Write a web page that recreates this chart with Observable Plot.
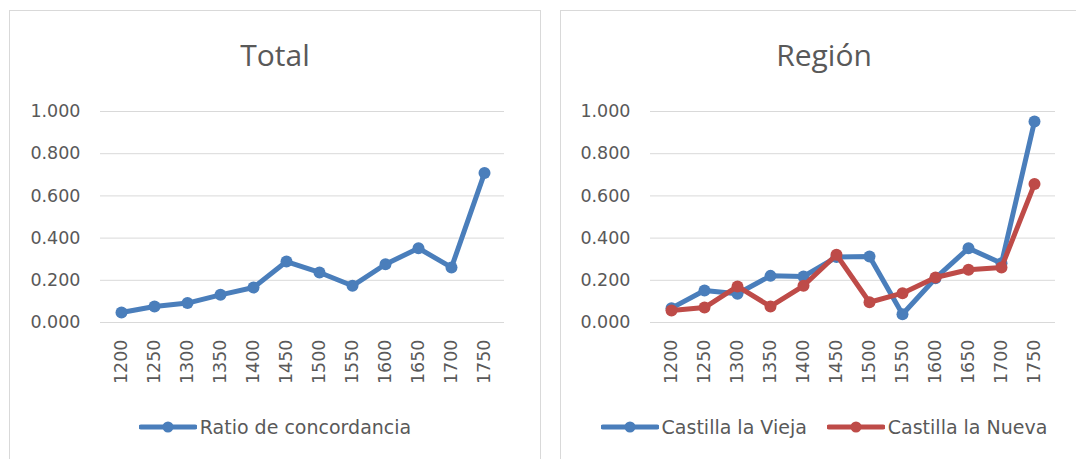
<!DOCTYPE html>
<html>
<head>
<meta charset="utf-8">
<script src="https://cdn.jsdelivr.net/npm/d3@7"></script>
<script src="https://cdn.jsdelivr.net/npm/@observablehq/plot@0.6"></script>
<style>
  html, body { margin: 0; padding: 0; background: #fff; overflow: hidden; }
  body { width: 1076px; height: 459px; position: relative; }
  .panel { position: absolute; top: 10px; height: 470px; border: 1px solid #d9d9d9; box-sizing: border-box; background: #fff; }
  .title { position: absolute; left: 0; right: 0; top: 24px; text-align: center; font-family: "Open Sans", sans-serif; font-size: 30px; line-height: 40px; color: #595959; }
  .chart { position: absolute; top: 80px; }
  .legend { position: absolute; left: 0; right: 0; top: 403px; height: 26px; display: flex; justify-content: center; align-items: center; gap: 20px; font-family: "DejaVu Sans", sans-serif; font-size: 19px; color: #595959; }
  .item { display: flex; align-items: center; gap: 3px; }
  .item svg { display: block; }
</style>
</head>
<body>
<div class="panel" id="p1" style="left:9px; width:532px;">
  <div class="title">Total</div>
  <div class="chart" id="c1" style="left:-1px;"></div>
  <div class="legend" id="l1"></div>
</div>
<div class="panel" id="p2" style="left:560px; width:528px;">
  <div class="title">Región</div>
  <div class="chart" id="c2" style="left:-1px;"></div>
  <div class="legend" id="l2"></div>
</div>
<script>
const years = ["1200","1250","1300","1350","1400","1450","1500","1550","1600","1650","1700","1750"];
const total = [0.047,0.076,0.092,0.131,0.166,0.289,0.237,0.174,0.276,0.352,0.261,0.708];
const vieja = [0.068,0.152,0.136,0.221,0.218,0.310,0.313,0.039,0.210,0.352,0.281,0.953];
const nueva = [0.057,0.071,0.171,0.076,0.174,0.321,0.096,0.139,0.213,0.250,0.261,0.656];
const yTicks = [0, 0.2, 0.4, 0.6, 0.8, 1.0];
const seriesTotal = [{name: "Ratio de concordancia", values: total, color: "#4A7EBB"}];
const seriesRegion = [
  {name: "Castilla la Vieja", values: vieja, color: "#4A7EBB"},
  {name: "Castilla la Nueva", values: nueva, color: "#BE4B48"}
];

function makeChart(series, width, marginLeft, marginRight) {
  const marks = [Plot.ruleY(yTicks, {stroke: "#d9d9d9", strokeWidth: 1})];
  for (const s of series) {
    const data = years.map((y, i) => ({year: y, v: s.values[i]}));
    marks.push(Plot.line(data, {x: "year", y: "v", stroke: s.color, strokeWidth: 5, strokeLinejoin: "round", strokeLinecap: "round"}));
    marks.push(Plot.dot(data, {x: "year", y: "v", fill: s.color, r: 6}));
  }
  return Plot.plot({
    width, height: 301,
    marginLeft, marginRight, marginTop: 20, marginBottom: 70,
    style: {fontFamily: "DejaVu Sans, sans-serif", fontSize: "17.5px", color: "#595959", background: "transparent", overflow: "visible"},
    x: {type: "point", domain: years, padding: 0.5, label: null, tickSize: 0, tickPadding: 17, tickRotate: -90},
    y: {domain: [0, 1], ticks: yTicks, tickFormat: d3.format(".3f"), tickSize: 0, tickPadding: 20, label: null},
    marks
  });
}

function makeLegend(el, series) {
  for (const s of series) {
    const item = document.createElement("div");
    item.className = "item";
    item.innerHTML = `<svg width="58" height="14"><line x1="2" y1="7" x2="56" y2="7" stroke="${s.color}" stroke-width="5" stroke-linecap="round"/><circle cx="29" cy="7" r="5.5" fill="${s.color}"/></svg><span>${s.name}</span>`;
    el.appendChild(item);
  }
}

document.getElementById("c1").appendChild(makeChart(seriesTotal, 531, 91, 36));
document.getElementById("c2").appendChild(makeChart(seriesRegion, 516, 90, 21));
makeLegend(document.getElementById("l1"), seriesTotal);
makeLegend(document.getElementById("l2"), seriesRegion);
</script>
</body>
</html>
